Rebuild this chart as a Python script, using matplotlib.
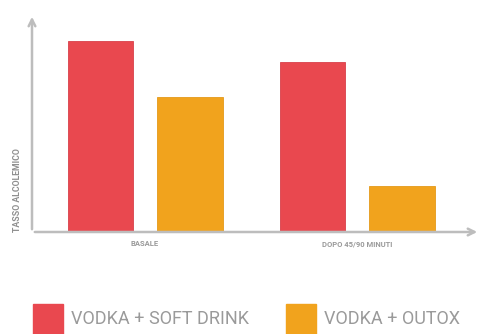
import matplotlib
matplotlib.use("Agg")
import matplotlib.pyplot as plt
from matplotlib.patches import Rectangle
import numpy as np

# --- data (arbitrary units) ---
categories = ["BASALE", "DOPO 45/90 MINUTI"]
series_names = ["VODKA + SOFT DRINK", "VODKA + OUTOX"]
soft_drink = [1.91, 1.70]
outox = [1.35, 0.46]
y_label = "TASSO ALCOLEMICO"

RED = "#e9484f"
ORANGE = "#f1a31d"
GRAY = "#bdbdbd"
TEXT = "#9a9a9a"
FONT = ["Roboto", "DejaVu Sans"]

W, H = 483, 334
fig = plt.figure(figsize=(W / 100, H / 100), dpi=100)
fig.patch.set_facecolor("white")

# axes box in pixel terms: origin (32, 232), top 14, right 480
ax = fig.add_axes([32 / W, (H - 232) / H, 448 / W, 218 / H])
ax.set_xlim(-0.533, 1.58)
ax.set_ylim(0, 2.18)

x = np.arange(len(categories))
width = 0.307
offset = 0.212
ax.bar(x - offset, soft_drink, width, color=RED, edgecolor="#d8404a", linewidth=0.6)
ax.bar(x + offset, outox, width, color=ORANGE, edgecolor="#e49a1a", linewidth=0.6)

for s in ax.spines.values():
    s.set_visible(False)
ax.set_yticks([])
ax.set_xticks(x)
ax.set_xticklabels(categories, fontsize=5.5, color=TEXT, family=FONT, fontweight="bold")
ax.tick_params(axis="x", length=0, pad=6)

# axes as grey arrows
arrow = dict(arrowstyle="->", color=GRAY, lw=1.8, mutation_scale=12)
ax.annotate("", xy=(0, 1.0), xytext=(0, 0), xycoords="axes fraction",
            textcoords="axes fraction", arrowprops=arrow, annotation_clip=False)
ax.annotate("", xy=(1.0, 0), xytext=(0, 0), xycoords="axes fraction",
            textcoords="axes fraction", arrowprops=arrow, annotation_clip=False)

fig.text(18 / W, 1 - 190 / H, y_label, rotation=90, ha="center", va="center",
         fontsize=6.3, color="#8f8f8f", family=FONT, fontweight="bold")

# legend
legend_items = [(33, series_names[0], RED), (286, series_names[1], ORANGE)]
for px, label, col in legend_items:
    fig.patches.append(Rectangle((px / W, (H - 336) / H), 30 / W, 32 / H,
                                 transform=fig.transFigure, color=col))
    fig.text((px + 38) / W, 1 - 319 / H, label, ha="left", va="center",
             fontsize=13, color=TEXT, family=FONT)

fig.savefig("out.png", dpi=100)
